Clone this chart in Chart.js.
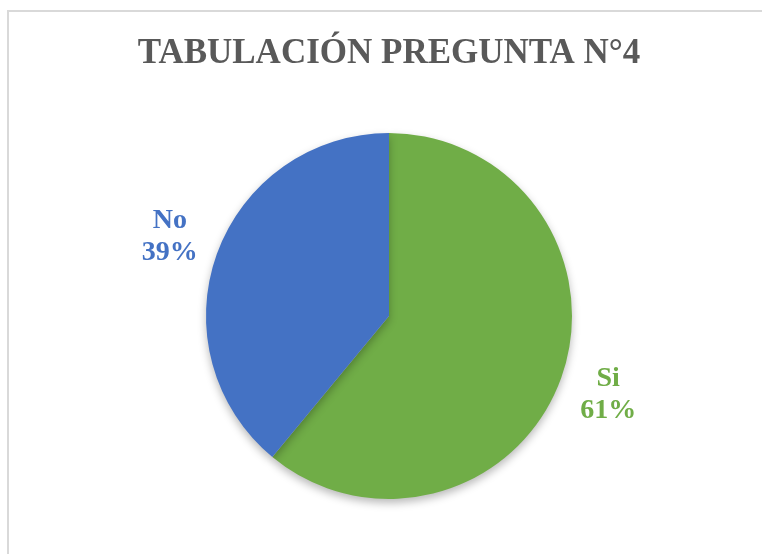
<!DOCTYPE html>
<html>
<head>
<meta charset="utf-8">
<script src="https://cdn.jsdelivr.net/npm/chart.js@4"></script>
<style>
    html, body { margin: 0; padding: 0; background: #ffffff; }
    #wrap { position: relative; width: 762px; height: 554px; }
    #frame {
        position: absolute; left: 7px; top: 10px; right: 0; bottom: 0;
        border-left: 2px solid #d9d9d9; border-top: 2px solid #d9d9d9;
        pointer-events: none;
    }
</style>
</head>
<body>
<div id="wrap">
    <canvas id="pieChart" width="762" height="554"></canvas>
    <div id="frame"></div>
</div>
<script>
// Chart data
const chartTitle = 'TABULACIÓN PREGUNTA N°4';
const categories = ['Si', 'No'];
const percentages = [61, 39];
const sliceColors = ['#70AD47', '#4472C4'];

// Soft shadow under the pie, like the Excel original
const shadowPlugin = {
    id: 'pieShadow',
    beforeDatasetsDraw(chart) {
        const ctx = chart.ctx;
        ctx.save();
        ctx.shadowColor = 'rgba(0, 0, 0, 0.28)';
        ctx.shadowBlur = 9;
        ctx.shadowOffsetX = 0;
        ctx.shadowOffsetY = 4;
    },
    afterDatasetsDraw(chart) {
        chart.ctx.restore();
    }
};

// Category name + percent outside each slice
const outsideLabels = {
    id: 'outsideLabels',
    afterDraw(chart) {
        const ctx = chart.ctx;
        const meta = chart.getDatasetMeta(0);
        ctx.save();
        ctx.font = 'bold 28px "Liberation Serif", "Times New Roman", serif';
        ctx.textAlign = 'center';
        ctx.textBaseline = 'middle';
        meta.data.forEach((arc, i) => {
            const p = arc.getProps(['x', 'y', 'startAngle', 'endAngle', 'outerRadius'], true);
            const mid = (p.startAngle + p.endAngle) / 2;
            const dist = p.outerRadius + 50;
            const cx = p.x + Math.cos(mid) * dist;
            const cy = p.y + Math.sin(mid) * dist;
            ctx.fillStyle = sliceColors[i];
            ctx.fillText(categories[i], cx, cy - 16);
            ctx.fillText(percentages[i] + '%', cx, cy + 16);
        });
        ctx.restore();
    }
};

const ctx = document.getElementById('pieChart').getContext('2d');
new Chart(ctx, {
    type: 'pie',
    data: {
        labels: categories,
        datasets: [{
            data: percentages,
            backgroundColor: sliceColors,
            borderWidth: 0
        }]
    },
    options: {
        responsive: false,
        animation: false,
        layout: {
            padding: { top: 0, bottom: 55, left: 16, right: 0 }
        },
        plugins: {
            legend: { display: false },
            tooltip: { enabled: false },
            title: {
                display: true,
                text: chartTitle,
                color: '#595959',
                font: { family: '"Liberation Serif", "Times New Roman", serif', size: 35, weight: 'bold', lineHeight: 1.2 },
                padding: { top: 33, bottom: 58 }
            }
        }
    },
    plugins: [shadowPlugin, outsideLabels]
});
</script>
</body>
</html>
